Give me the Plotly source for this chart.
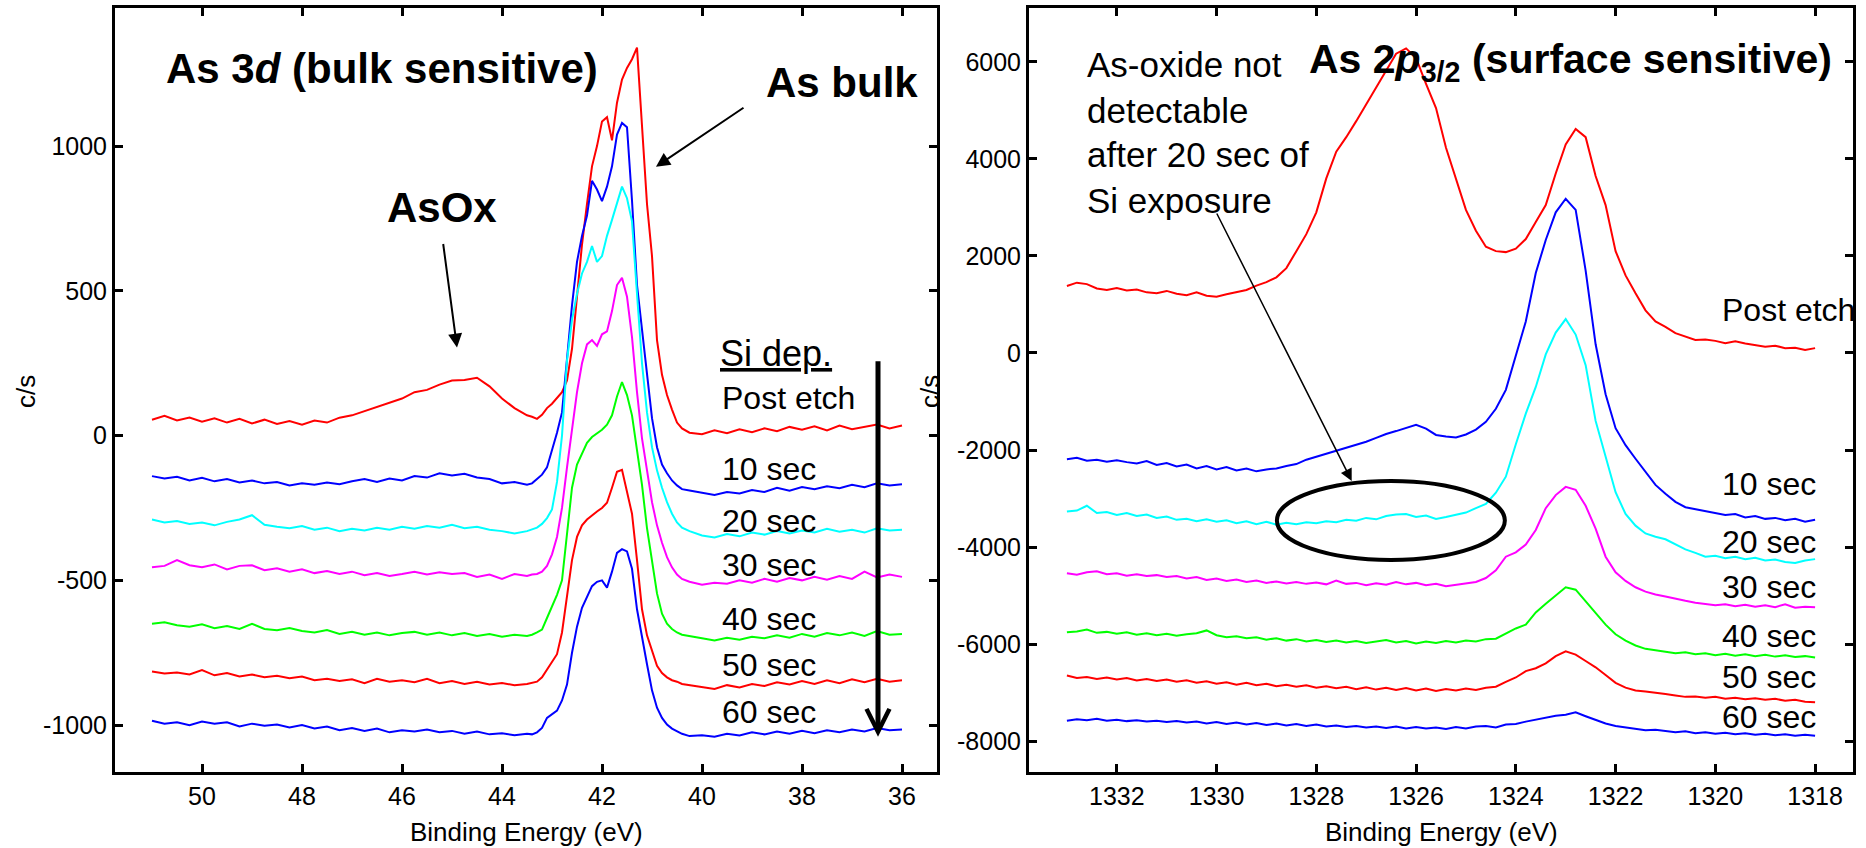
import plotly.graph_objects as go

W, H = 1866, 848
FONT = "Arial, Liberation Sans, sans-serif"

# ---------------- As 3d (left panel) ----------------
be_3d = [
    51.00, 50.75, 50.50, 50.25, 50.00, 49.75, 49.50, 49.25, 49.00, 48.75,
    48.50, 48.25, 48.00, 47.75, 47.50, 47.25, 47.00, 46.75, 46.50, 46.25,
    46.00, 45.75, 45.50, 45.25, 45.00, 44.75, 44.50, 44.25, 44.00, 43.75,
    43.50,
    43.4, 43.3, 43.2, 43.1, 43.0, 42.9, 42.8, 42.7, 42.6, 42.5,
    42.4, 42.3, 42.2, 42.1, 42.0, 41.9, 41.8, 41.7, 41.6, 41.5,
    41.4, 41.3, 41.2, 41.1, 41.0, 40.9, 40.8, 40.7, 40.6, 40.5,
    40.4,
    40.25, 40.00, 39.75, 39.50, 39.25, 39.00, 38.75, 38.50, 38.25, 38.00,
    37.75, 37.50, 37.25, 37.00, 36.75, 36.50, 36.25, 36.00,
]

as3d_post_etch = [
    55, 68, 52, 62, 48, 60, 45, 58, 42, 55,
    40, 50, 38, 52, 45, 62, 70, 85, 98, 115,
    128, 150, 158, 176, 190, 192, 200, 170, 128, 95,
    70,
    65, 58, 72, 95, 110, 130, 150, 190, 300, 480,
    660, 800, 930, 1000, 1085, 1100, 1020, 1150, 1230, 1270,
    1300, 1340, 1060, 800, 620, 330, 210, 140, 90, 45,
    25,
    10, 5, 18, 8, 22, 12, 25, 15, 30, 20,
    32, 18, 35, 22, 30, 38, 25, 35,
]
as3d_10s = [
    -140, -148, -142, -155, -146, -158, -150, -162, -155, -165,
    -160, -172, -165, -170, -162, -168, -158, -150, -160, -148,
    -155, -140, -145, -130, -138, -132, -145, -150, -165, -160,
    -170,
    -165, -150, -135, -110, -50, 10, 80, 280, 450, 600,
    690, 760, 880, 850, 810, 860, 930, 1040, 1080, 1065,
    812, 520, 360, 200, 60, -40, -100, -130, -155, -172,
    -185,
    -190, -198, -205, -195, -200, -188, -195, -180, -190, -178,
    -185, -175, -182, -170, -178, -165, -172, -168,
]
as3d_20s = [
    -290, -300, -295, -305, -300, -310, -298, -290, -275, -308,
    -315, -320, -312, -325, -318, -330, -322, -328, -318, -325,
    -315, -322, -312, -318, -308, -320, -315, -325, -330, -338,
    -330,
    -325, -318, -305, -285, -255, -160, 0, 260, 400, 490,
    560, 600, 655, 600, 620, 690, 745, 800, 860, 820,
    740, 490, 250, 80, -40, -120, -180, -230, -270, -300,
    -318,
    -330, -345, -352, -340, -348, -335, -342, -330, -338, -328,
    -335, -322, -332, -325, -335, -320, -328, -325,
]
as3d_30s = [
    -455, -450, -430, -448, -455, -445, -462, -450, -448, -465,
    -458, -470, -462, -475, -468, -478, -470, -482, -475, -485,
    -478, -470, -480, -472, -478, -475, -488, -480, -495, -478,
    -485,
    -480, -478, -470, -450, -410, -350, -250, -110, 30, 150,
    250, 315, 330, 310, 350, 360, 430, 520, 545, 480,
    340, 150, -10, -120, -230, -310, -370, -420, -455, -480,
    -495,
    -505, -515, -508, -512, -500, -508, -495, -505, -492, -500,
    -488, -498, -485, -495, -470, -490, -480, -488,
]
as3d_40s = [
    -650, -645, -655, -660, -652, -665, -658, -668, -650, -668,
    -672, -665, -675, -680, -672, -685, -678, -688, -680, -690,
    -682, -678, -688, -680, -690, -682, -692, -685, -695, -688,
    -692,
    -688, -680, -670, -630, -590, -550, -500, -350, -180, -100,
    -60, -25, -5, 8, 20, 38, 70, 135, 185, 140,
    70, -50, -170, -320, -440, -545, -615, -650, -668, -680,
    -688,
    -692, -700, -708, -698, -705, -695, -700, -690, -698, -685,
    -695, -682, -690, -680, -692, -675, -688, -685,
]
as3d_50s = [
    -815, -822, -818, -825, -810, -828, -820, -832, -825, -835,
    -830, -838, -832, -845, -840, -848, -842, -855, -840, -850,
    -845, -852, -840, -855, -848, -858, -850, -860, -855, -862,
    -858,
    -855, -850, -835, -808, -785, -755, -680, -560, -430, -350,
    -310, -290, -275, -262, -250, -232, -180, -125, -118, -190,
    -270, -430, -600, -690, -745, -795, -820, -835, -845, -850,
    -858,
    -862, -868, -875, -862, -870, -858, -865, -852, -860, -848,
    -858, -845, -855, -842, -852, -840, -850, -845,
]
as3d_60s = [
    -985, -995, -990, -1000, -988, -995, -990, -1005, -995, -1002,
    -998, -1008, -1000, -1012, -1005, -1018, -1010, -1020, -1012, -1025,
    -1018, -1022, -1015, -1025, -1020, -1030, -1022, -1032, -1028, -1035,
    -1030,
    -1032, -1025, -1010, -975, -962, -950, -915, -860, -750, -660,
    -595, -560, -520, -505, -500, -525, -470, -405, -392, -400,
    -460, -600, -700, -790, -880, -940, -975, -998, -1012, -1022,
    -1030,
    -1038, -1035, -1040, -1030, -1036, -1025, -1032, -1022, -1030, -1020,
    -1028, -1018, -1025, -1015, -1022, -1010, -1018, -1015,
]

# ---------------- As 2p3/2 (right panel) ----------------
be_2p = [
    1333.0, 1332.8, 1332.6, 1332.4, 1332.2, 1332.0, 1331.8, 1331.6, 1331.4, 1331.2,
    1331.0, 1330.8, 1330.6, 1330.4, 1330.2, 1330.0, 1329.8, 1329.6, 1329.4, 1329.2,
    1329.0, 1328.8, 1328.6, 1328.4, 1328.2, 1328.0, 1327.8, 1327.6, 1327.4, 1327.2,
    1327.0, 1326.8, 1326.6, 1326.4, 1326.2, 1326.0, 1325.8, 1325.6, 1325.4, 1325.2,
    1325.0, 1324.8, 1324.6, 1324.4, 1324.2, 1324.0, 1323.8, 1323.6, 1323.4, 1323.2,
    1323.0, 1322.8, 1322.6, 1322.4, 1322.2, 1322.0, 1321.8, 1321.6, 1321.4, 1321.2,
    1321.0, 1320.8, 1320.6, 1320.4, 1320.2, 1320.0, 1319.8, 1319.6, 1319.4, 1319.2,
    1319.0, 1318.8, 1318.6, 1318.4, 1318.2, 1318.0,
]

as2p_post_etch = [
    1380, 1450, 1420, 1330, 1300, 1340, 1290, 1310, 1250, 1230,
    1280, 1220, 1190, 1250, 1180, 1160, 1210, 1260, 1300, 1390,
    1460, 1560, 1750, 2100, 2450, 2900, 3600, 4150, 4450, 4780,
    5130, 5470, 5800, 6170, 6280, 6080, 5550, 5050, 4230, 3580,
    2950, 2520, 2190, 2100, 2080, 2150, 2350, 2700, 3050, 3700,
    4300, 4620, 4450, 3650, 3050, 2100, 1600, 1230, 880, 650,
    540, 410, 340, 270, 280, 250, 200, 240, 195, 160,
    130, 150, 100, 110, 60, 100,
]
as2p_10s = [
    -2190, -2160, -2220, -2200, -2240, -2210, -2250, -2280, -2230, -2310,
    -2270, -2340, -2300, -2380, -2330, -2400, -2350, -2420, -2380, -2440,
    -2400, -2380, -2330, -2290, -2200, -2140, -2080, -2020, -1960, -1900,
    -1830, -1750, -1670, -1610, -1540, -1480, -1560, -1690, -1720, -1740,
    -1680, -1580, -1420, -1150, -760, -80, 650, 1650, 2330, 2900,
    3180, 2950, 1700, 180, -850, -1550, -1900, -2180, -2450, -2720,
    -2900, -3070, -3180, -3220, -3250, -3300, -3340, -3320, -3390, -3360,
    -3420, -3400, -3450, -3420, -3480, -3440,
]
as2p_20s = [
    -3270, -3250, -3150, -3300, -3280, -3340, -3300, -3360, -3330, -3400,
    -3370, -3440, -3420, -3470, -3430, -3480, -3450, -3510, -3470, -3530,
    -3480, -3540, -3500, -3530, -3490, -3510, -3470, -3490, -3440, -3460,
    -3400, -3430, -3360, -3330, -3320, -3380, -3350, -3420, -3380, -3330,
    -3290, -3200, -3110, -2880, -2550, -1880, -1250, -700, -30, 420,
    700, 380, -250, -1400, -2150, -2870, -3320, -3560, -3720, -3790,
    -3840, -3950, -4050, -4120, -4200, -4180, -4230, -4200, -4250, -4220,
    -4280, -4260, -4310, -4330, -4280, -4250,
]
as2p_30s = [
    -4540, -4570, -4520, -4500, -4560, -4540, -4590, -4560, -4600, -4580,
    -4620, -4600, -4650, -4620, -4680, -4650, -4700, -4670, -4720, -4690,
    -4740, -4710, -4750, -4720, -4760, -4730, -4770, -4690, -4760, -4740,
    -4790, -4750, -4780, -4720, -4770, -4740, -4790, -4760, -4810, -4780,
    -4760, -4720, -4640, -4480, -4200, -4110, -3950, -3650, -3200, -2930,
    -2760, -2820, -3150, -3620, -4200, -4520, -4700, -4830, -4920, -4980,
    -5020, -5070, -5110, -5150, -5170, -5200, -5180, -5220, -5190, -5230,
    -5200, -5240, -5180, -5250, -5230, -5240,
]
as2p_40s = [
    -5760, -5740, -5700, -5770, -5750, -5790, -5760, -5810, -5780, -5820,
    -5790, -5830, -5800, -5780, -5720, -5820, -5860, -5840, -5880, -5860,
    -5910, -5880, -5930, -5900, -5950, -5920, -5960, -5930, -5970, -5940,
    -5980, -5950, -5920, -5970, -5940, -5990, -5950, -5980, -5940, -5970,
    -5930, -5950, -5900, -5890, -5780, -5680, -5600, -5350, -5170, -5000,
    -4830, -4880, -5120, -5360, -5600, -5800, -5930, -6030, -6100, -6130,
    -6160, -6190, -6170, -6210, -6190, -6230, -6200, -6240, -6210, -6250,
    -6220, -6260, -6230, -6270, -6250, -6280,
]
as2p_50s = [
    -6650, -6700, -6680, -6720, -6690, -6730, -6700, -6750, -6720, -6760,
    -6730, -6780, -6750, -6800, -6770, -6820, -6790, -6840, -6800, -6850,
    -6820, -6870, -6840, -6880, -6850, -6900, -6870, -6910, -6880, -6930,
    -6890, -6940, -6900, -6950, -6910, -6960, -6920, -6970, -6930, -6960,
    -6920, -6950, -6900, -6880, -6780, -6690, -6560, -6500, -6400, -6250,
    -6150, -6220, -6350, -6480, -6640, -6800, -6900, -6960, -6980, -7000,
    -7030, -7060, -7090, -7080, -7110, -7090, -7130, -7110, -7140, -7120,
    -7150, -7130, -7170, -7150, -7190, -7200,
]
as2p_60s = [
    -7580, -7550, -7570, -7540, -7580, -7560, -7590, -7570, -7600, -7580,
    -7610, -7590, -7620, -7600, -7640, -7610, -7650, -7620, -7660, -7630,
    -7670, -7640, -7680, -7650, -7690, -7660, -7700, -7680, -7710, -7690,
    -7720, -7700, -7730, -7700, -7740, -7710, -7740, -7720, -7750, -7710,
    -7740, -7700, -7690, -7720, -7660, -7650, -7600, -7560, -7520, -7480,
    -7460, -7410, -7490, -7560, -7640, -7690, -7720, -7750, -7780, -7770,
    -7800, -7820, -7800, -7840, -7820, -7850, -7830, -7860, -7840, -7870,
    -7850, -7880, -7860, -7890, -7870, -7890,
]

step_labels = ["Post etch", "10 sec", "20 sec", "30 sec", "40 sec", "50 sec", "60 sec"]
step_colors = ["#ff0000", "#0000ff", "#00ffff", "#ff00ff", "#00ff00", "#ff0000", "#0000ff"]
series_3d = [as3d_post_etch, as3d_10s, as3d_20s, as3d_30s, as3d_40s, as3d_50s, as3d_60s]
series_2p = [as2p_post_etch, as2p_10s, as2p_20s, as2p_30s, as2p_40s, as2p_50s, as2p_60s]

# tick positions / labels
x_ticks_3d = [50, 48, 46, 44, 42, 40, 38, 36]
y_ticks_3d = [-1000, -500, 0, 500, 1000]
x_ticks_2p = [1332, 1330, 1328, 1326, 1324, 1322, 1320, 1318]
y_ticks_2p = [-8000, -6000, -4000, -2000, 0, 2000, 4000, 6000]

fig = go.Figure()
for name, color, ys in zip(step_labels, step_colors, series_3d):
    fig.add_trace(go.Scatter(x=be_3d, y=ys, mode="lines", name=name,
                             line=dict(color=color, width=2), xaxis="x", yaxis="y"))
for name, color, ys in zip(step_labels, step_colors, series_2p):
    fig.add_trace(go.Scatter(x=be_2p, y=ys, mode="lines", name=name,
                             line=dict(color=color, width=2), xaxis="x2", yaxis="y2"))

axis_style = dict(
    showline=True, linecolor="black", linewidth=3, mirror="ticks",
    ticks="inside", ticklen=8, tickwidth=3, tickcolor="black",
    showgrid=False, zeroline=False,
    tickfont=dict(family=FONT, size=25, color="black"),
)


def tick_text(vals):
    # plain hyphen-minus for negative labels
    return [str(v) for v in vals]


Y_DOM = [76 / H, 840 / H]
fig.update_layout(
    width=W, height=H,
    margin=dict(l=0, r=0, t=0, b=0),
    paper_bgcolor="white", plot_bgcolor="white",
    showlegend=False,
    xaxis=dict(domain=[115 / W, 937 / W], range=[51.74, 35.3], anchor="y",
               tickvals=x_ticks_3d, ticktext=tick_text(x_ticks_3d), **axis_style),
    yaxis=dict(domain=Y_DOM, range=[-1162, 1477], anchor="x",
               tickvals=y_ticks_3d, ticktext=tick_text(y_ticks_3d), **axis_style),
    xaxis2=dict(domain=[1029 / W, 1853 / W], range=[1333.76, 1317.24], anchor="y2",
                tickvals=x_ticks_2p, ticktext=tick_text(x_ticks_2p), **axis_style),
    yaxis2=dict(domain=Y_DOM, range=[-8639, 7113], anchor="x2",
                tickvals=y_ticks_2p, ticktext=tick_text(y_ticks_2p), **axis_style),
)


def px(x):
    return x / W


def py(y):
    return 1 - y / H


def label(text, x, y, size, xanchor="left", angle=0):
    return dict(text=text, x=px(x), y=py(y), xref="paper", yref="paper",
                xanchor=xanchor, yanchor="middle", showarrow=False, textangle=angle,
                font=dict(family=FONT, size=size, color="black"))


notes = [
    # left panel
    label("<b>As 3<i>d</i> (bulk sensitive)</b>", 382, 68, 42, "center"),
    label("<b>As bulk</b>", 842, 82, 42, "center"),
    label("<b>AsOx</b>", 442, 208, 42, "center"),
    label("<u>Si dep.</u>", 718, 353, 36),
    label("c/s", 26, 392, 26, "center", -90),
    label("Binding Energy (eV)", 526, 832, 26, "center"),
    # right panel
    label("<b>As 2<i>p</i><sub>3/2</sub> (surface sensitive)</b>", 1570, 62, 41, "center"),
    label("As-oxide not", 1085, 65, 35),
    label("detectable", 1085, 110, 35),
    label("after 20 sec of", 1085, 155, 35),
    label("Si exposure", 1085, 200, 35),
    label("c/s", 930, 392, 26, "center", -90),
    label("Binding Energy (eV)", 1441, 832, 26, "center"),
]

left_label_y = [398, 469, 521, 565, 619, 665, 712]
right_label_y = [310, 484, 542, 587, 636, 677, 717]
for name, yl, yr in zip(step_labels, left_label_y, right_label_y):
    notes.append(label(name, 720, yl, 32))
    notes.append(label(name, 1720, yr, 32))

# pointer arrows (head at x/y, tail at ax/ay, all in data units)
notes += [
    dict(x=44.9, y=304, ax=45.18, ay=667, xref="x", yref="y", axref="x", ayref="y",
         text="", showarrow=True, arrowhead=2, arrowsize=1.4, arrowwidth=2, arrowcolor="black"),
    dict(x=40.92, y=929, ax=39.14, ay=1136, xref="x", yref="y", axref="x", ayref="y",
         text="", showarrow=True, arrowhead=2, arrowsize=1.4, arrowwidth=2, arrowcolor="black"),
    dict(x=36.48, y=-1040, ax=36.48, ay=262, xref="x", yref="y", axref="x", ayref="y",
         text="", showarrow=True, arrowhead=5, arrowsize=0.9, arrowwidth=5, arrowcolor="black"),
    dict(x=1327.29, y=-2639, ax=1330.01, ay=2907, xref="x2", yref="y2", axref="x2", ayref="y2",
         text="", showarrow=True, arrowhead=2, arrowsize=1.6, arrowwidth=1.5, arrowcolor="black"),
]
fig.update_layout(annotations=notes)

# oxide region marker on the 20 sec As 2p trace
fig.add_shape(type="circle", xref="x2", yref="y2",
              x0=1328.79, x1=1324.22, y0=-4268, y1=-2639,
              line=dict(color="black", width=4))

fig.write_html("out.html")
